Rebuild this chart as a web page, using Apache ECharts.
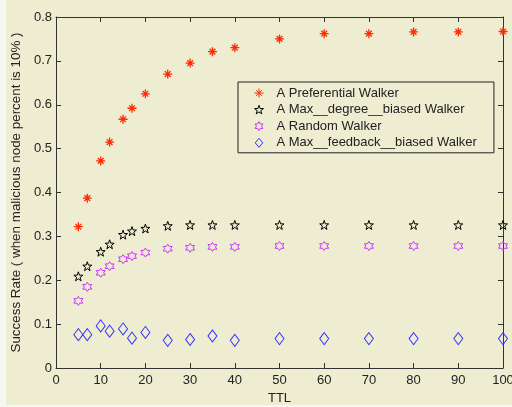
<!DOCTYPE html>
<html><head><meta charset="utf-8">
<script src="https://cdn.jsdelivr.net/npm/echarts@6/dist/echarts.min.js"></script>
<style>html,body{margin:0;padding:0;background:#F7F7F1;}#c{position:absolute;left:6px;top:0;width:506px;height:405px;}</style>
</head><body><div id="c"></div>
<script>
var ttl = [5, 7, 10, 12, 15, 17, 20, 25, 30, 35, 40, 50, 60, 70, 80, 90, 100];
var preferential = [0.322, 0.387, 0.472, 0.515, 0.567, 0.592, 0.625, 0.670, 0.695, 0.721, 0.730, 0.750, 0.762, 0.762, 0.766, 0.766, 0.767];
var maxDegree = [0.209, 0.232, 0.265, 0.282, 0.304, 0.312, 0.318, 0.324, 0.326, 0.326, 0.326, 0.326, 0.326, 0.326, 0.326, 0.326, 0.326];
var randomW = [0.153, 0.185, 0.217, 0.232, 0.248, 0.255, 0.263, 0.272, 0.274, 0.276, 0.276, 0.278, 0.278, 0.278, 0.278, 0.278, 0.278];
var maxFeedback = [0.076, 0.076, 0.096, 0.084, 0.089, 0.068, 0.081, 0.063, 0.065, 0.073, 0.063, 0.067, 0.067, 0.067, 0.067, 0.067, 0.067];
var seriesNames = ['A Preferential Walker', 'A Max__degree__biased Walker', 'A Random Walker', 'A Max__feedback__biased Walker'];

function pairs(ys){ return ttl.map(function(x,i){ return [x, ys[i]]; }); }

var ASTER = 'path://M5 0L5 10M0 5L10 5M1.8 1.8L8.2 8.2M8.2 1.8L1.8 8.2';
var STAR5 = 'path://M10 0L12.351 6.764L19.511 6.910L13.804 11.236L15.878 18.090L10 14L4.122 18.090L6.196 11.236L0.489 6.910L7.649 6.764Z';
var STAR6 = 'path://M10 0L12.887 5L18.660 5L15.774 10L18.660 15L12.887 15L10 20L7.113 15L1.340 15L4.226 10L1.340 5L7.113 5Z';
var DIAM = 'path://M5 0L10 6L5 12L0 6Z';

var font = 'Liberation Sans, Arial, sans-serif';
var axisCol = '#333333';
var txtCol = '#222222';

function mkSeries(name, data, symbol, size, col, bw){
  return {
    name: name, type: 'scatter', data: pairs(data), symbol: symbol, symbolSize: size,
    itemStyle: { color: 'none', borderColor: col, borderWidth: bw, opacity: 1 },
    emphasis: { disabled: true }, animation: false
  };
}
function mirrorAxis(extra){
  var a = {
    type: 'value',
    axisLine: { show: true, onZero: false, lineStyle: { color: axisCol, width: 1 } },
    axisTick: { show: true, inside: true, length: 5, lineStyle: { color: axisCol } },
    axisLabel: { show: false }, splitLine: { show: false }
  };
  for (var k in extra) a[k] = extra[k];
  return a;
}

var chart = echarts.init(document.getElementById('c'));
chart.setOption({
  backgroundColor: '#EEEDD1',
  animation: false,
  grid: { left: 50, right: 9, top: 17, bottom: 37, containLabel: false, outerBoundsMode: 'none' },
  xAxis: [{
    type: 'value', min: 0, max: 100, interval: 10,
    name: 'TTL', nameLocation: 'middle', nameGap: 24,
    nameTextStyle: { color: txtCol, fontSize: 13, fontFamily: font },
    axisLine: { show: true, onZero: false, lineStyle: { color: axisCol, width: 1 } },
    axisTick: { show: true, inside: true, length: 5, lineStyle: { color: axisCol } },
    axisLabel: { color: txtCol, fontSize: 13, fontFamily: font, margin: 6 },
    splitLine: { show: false }
  }, mirrorAxis({ min: 0, max: 100, interval: 10, position: 'top' })],
  yAxis: [{
    type: 'value', min: 0, max: 0.8, interval: 0.1,
    name: 'Success Rate ( when malicious node percent is 10% )', nameLocation: 'middle', nameGap: 33,
    nameTextStyle: { color: txtCol, fontSize: 13.4, fontFamily: font },
    axisLine: { show: true, onZero: false, lineStyle: { color: axisCol, width: 1 } },
    axisTick: { show: true, inside: true, length: 5, lineStyle: { color: axisCol } },
    axisLabel: { color: txtCol, fontSize: 13, fontFamily: font, margin: 4,
      formatter: function(v){ return v === 0 ? '0' : v.toFixed(1); } },
    splitLine: { show: false }
  }, mirrorAxis({ min: 0, max: 0.8, interval: 0.1, position: 'right' })],
  legend: {
    orient: 'vertical', left: 232, top: 82,
    padding: [4, 17, 3, 14],
    itemWidth: 9, itemHeight: 9, itemGap: 2.6,
    itemStyle: { borderWidth: 1 },
    backgroundColor: '#EEEDD1', borderColor: '#222', borderWidth: 1,
    textStyle: { color: txtCol, fontSize: 13, fontFamily: font, lineHeight: 14, padding: [0, 0, 0, 8] },
    selectedMode: false,
    data: seriesNames
  },
  series: [
    mkSeries(seriesNames[0], preferential, ASTER, 9, '#FF2A00', 1.3),
    mkSeries(seriesNames[1], maxDegree, STAR5, 9, '#000000', 1),
    mkSeries(seriesNames[2], randomW, STAR6, 9, '#CC33FF', 1),
    mkSeries(seriesNames[3], maxFeedback, DIAM, [9, 12], '#3333FF', 1)
  ]
});
</script></body></html>
